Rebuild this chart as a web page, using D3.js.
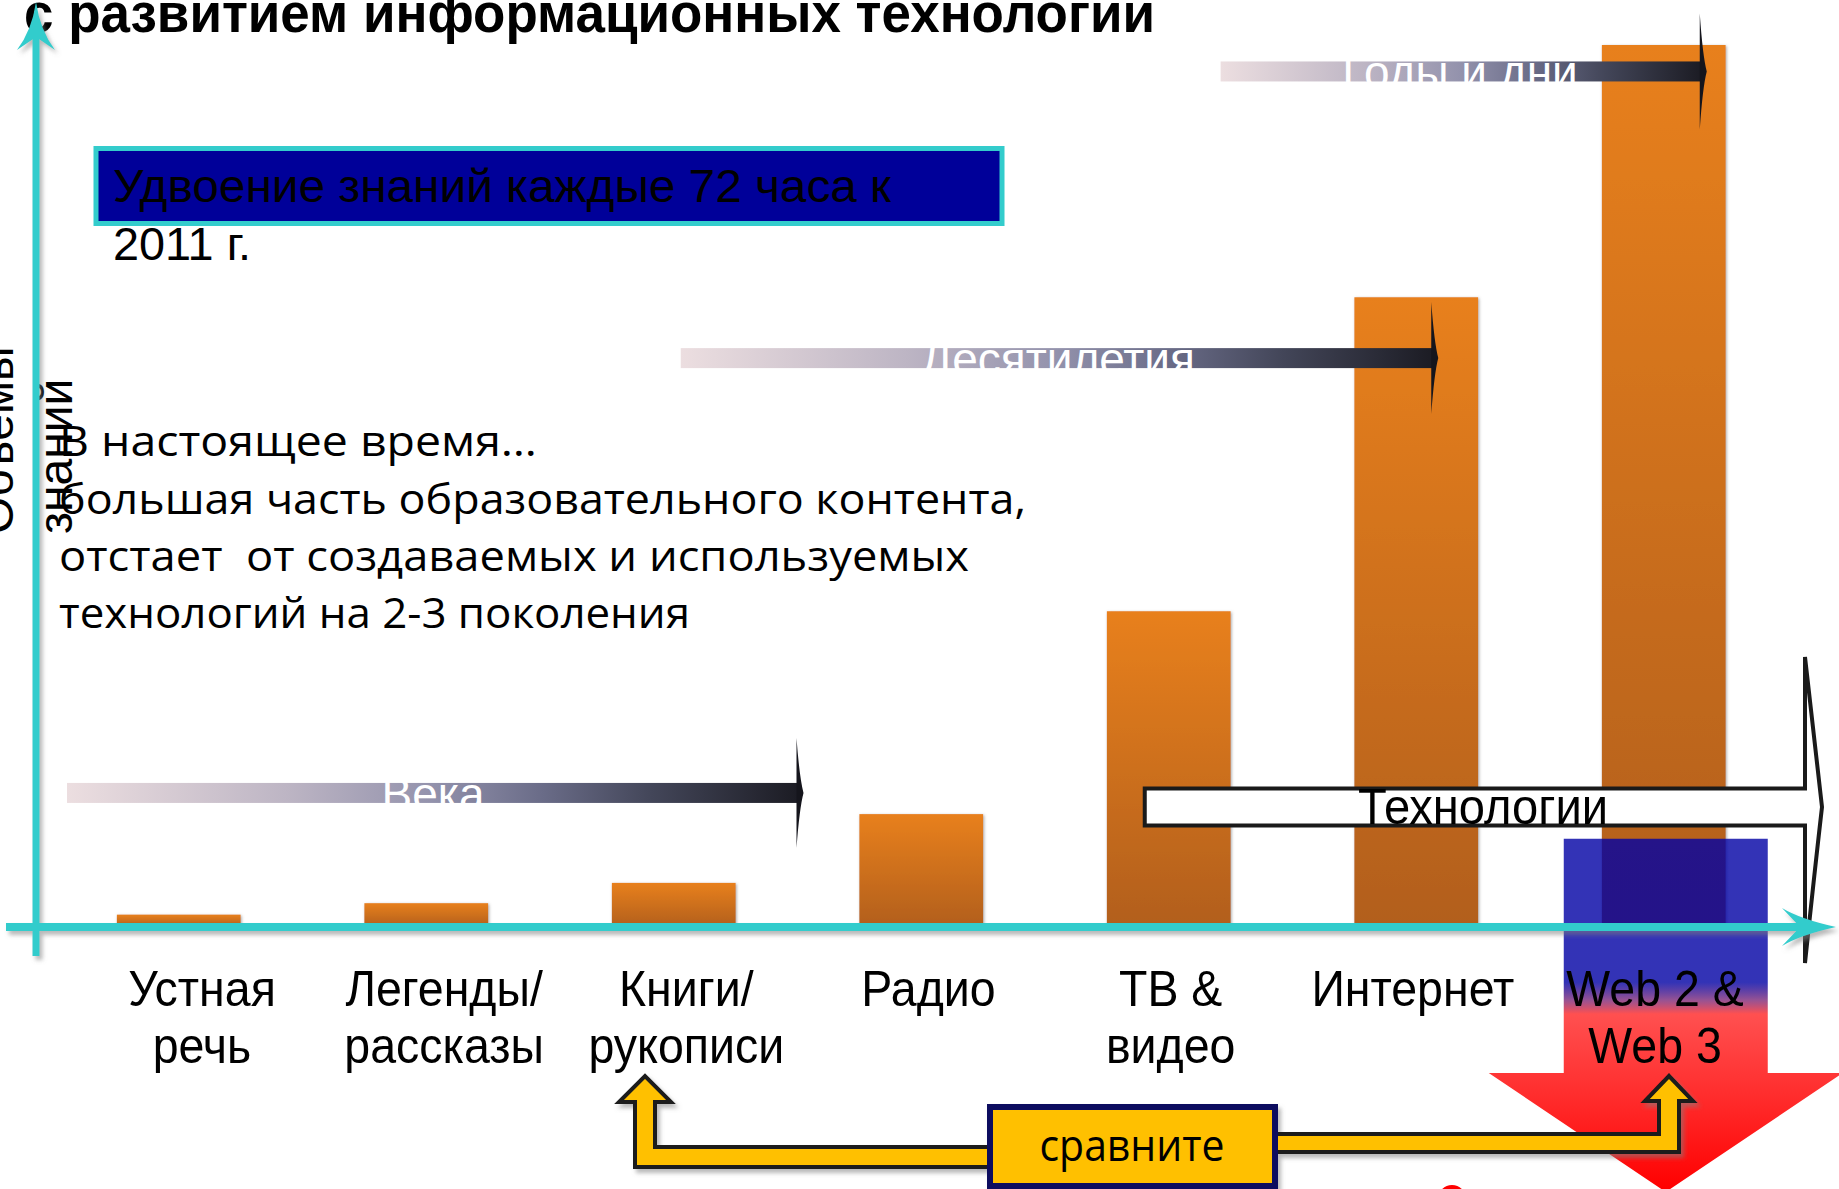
<!DOCTYPE html>
<html>
<head>
<meta charset="utf-8">
<script src="https://cdn.jsdelivr.net/npm/d3@7"></script>
<style>
  html, body { margin: 0; padding: 0; background: #ffffff; overflow: hidden; }
  text { white-space: pre; }
</style>
</head>
<body>
<svg id="chart" width="1839" height="1189"></svg>
<script>
// ---- data ----
const categories = ["Устная речь", "Легенды/ рассказы", "Книги/ рукописи", "Радио", "ТВ & видео", "Интернет", "Web 2 & Web 3"];
const categoryLines = [["Устная", "речь"], ["Легенды/", "рассказы"], ["Книги/", "рукописи"], ["Радио"], ["ТВ &", "видео"], ["Интернет"], ["Web 2 &", "Web 3"]];
const knowledgeVolume = [1.4, 2.7, 5.0, 12.8, 35.8, 71.4, 100];
const eraLabels = ["Века", "Десятилетия", "Годы и дни"];
const titleText = "с развитием информационных технологии";
const axisTitle = ["Объемы", "знаний"];
const headline = ["Удвоение знаний каждые 72 часа к", "2011 г."];
const noteLines = ["В настоящее время…", "большая часть образовательного контента,", "отстает  от создаваемых и используемых", "технологий на 2-3 поколения"];
const techLabel = "Технологии";
const compareLabel = "сравните";

// ---- setup ----
const svg = d3.select("#chart");
const defs = svg.append("defs");

const x = d3.scaleBand().domain(categories).range([55, 1787.5]).paddingInner(0.5).paddingOuter(0.25);
const y = d3.scaleLinear().domain([0, 100]).range([927, 45]);
const labelX = d3.scalePoint().domain(categories).range([202, 1655]);

const SANS = "'Liberation Sans', Arial, sans-serif";
const SOFT = "'Open Sans', 'Noto Sans', sans-serif";

function fitWidth(sel, w) {
  sel.attr("textLength", w).attr("lengthAdjust", "spacingAndGlyphs");
}
function condense(sel, k) {
  sel.each(function () {
    const w = this.getComputedTextLength();
    this.setAttribute("textLength", w * k);
    this.setAttribute("lengthAdjust", "spacingAndGlyphs");
  });
}

// gradients & filters
const barGrad = defs.append("linearGradient").attr("id", "barGrad").attr("x1", 0).attr("y1", 0).attr("x2", 0).attr("y2", 1);
barGrad.append("stop").attr("offset", 0).attr("stop-color", "#E8801F");
barGrad.append("stop").attr("offset", 1).attr("stop-color", "#B25F1E");

const eraGrad = defs.append("linearGradient").attr("id", "eraGrad").attr("x1", 0).attr("y1", 0).attr("x2", 1).attr("y2", 0);
[[0, "#ECDEE0"], [0.3, "#BDB5C4"], [0.5, "#9392AC"], [0.65, "#6A6C88"], [0.8, "#434659"], [1, "#1C1C24"]]
  .forEach(([o, c]) => eraGrad.append("stop").attr("offset", o).attr("stop-color", c));

const webGrad = defs.append("linearGradient").attr("id", "webGrad")
  .attr("gradientUnits", "userSpaceOnUse").attr("x1", 0).attr("y1", 838).attr("x2", 0).attr("y2", 1190);
[[0, "#0000A4", 0.8], [0.41, "#0000A4", 0.8], [0.46, "#8A3F88", 0.9], [0.5, "#FF5050", 1], [0.75, "#FF2A2A", 1], [1, "#FF0000", 1]]
  .forEach(([o, c, a]) => webGrad.append("stop").attr("offset", o).attr("stop-color", c).attr("stop-opacity", a));

const shadow = defs.append("filter").attr("id", "shadow").attr("x", "-10%").attr("y", "-10%").attr("width", "130%").attr("height", "130%");
shadow.append("feDropShadow").attr("dx", 3).attr("dy", 4).attr("stdDeviation", 2)
  .attr("flood-color", "#808080").attr("flood-opacity", 0.55);

const soft = defs.append("filter").attr("id", "soft").attr("x", "-10%").attr("y", "-10%").attr("width", "120%").attr("height", "120%");
soft.append("feDropShadow").attr("dx", 1).attr("dy", 1).attr("stdDeviation", 1.5)
  .attr("flood-color", "#707070").attr("flood-opacity", 0.6);

// ---- title ----
svg.append("text").attr("x", 24).attr("y", 32)
  .attr("font-family", SANS).attr("font-weight", "bold").attr("font-size", 56).attr("fill", "#000")
  .text(titleText).call(fitWidth, 1131);

// ---- headline box ----
svg.append("rect").attr("x", 96).attr("y", 148.5).attr("width", 906).attr("height", 75)
  .attr("fill", "#000099").attr("stroke", "#33CCCC").attr("stroke-width", 5);
svg.append("text").attr("x", 113).attr("y", 202)
  .attr("font-family", SANS).attr("font-size", 46).attr("fill", "#000")
  .text(headline[0]).call(fitWidth, 778);
svg.append("text").attr("x", 113).attr("y", 260)
  .attr("font-family", SANS).attr("font-size", 46).attr("fill", "#000")
  .text(headline[1]).call(fitWidth, 138);

// ---- bars ----
svg.append("g").attr("filter", "url(#soft)")
  .selectAll("rect").data(categories).join("rect")
  .attr("x", d => x(d))
  .attr("y", (d, i) => y(knowledgeVolume[i]))
  .attr("width", x.bandwidth())
  .attr("height", (d, i) => y(0) - y(knowledgeVolume[i]))
  .attr("fill", "url(#barGrad)");

// ---- era arrows (gradient shafts with thin spike heads) ----
const cx = c => x(c) + x.bandwidth() / 2;
const eraLayout = [
  { x0: 67, x1: (x(categories[2]) + x.bandwidth() + x(categories[3])) / 2, level: 15.2, labelX: 433, spike: 55 },
  { x0: cx(categories[2]) + 7, x1: cx(categories[5]) + 16, level: 64.5, labelX: 1058, spike: 56 },
  { x0: x(categories[4]) + x.bandwidth() - 10, x1: cx(categories[6]) + 37, level: 97, labelX: 1460, spike: 58 }
];
const eraG = svg.append("g");
eraLabels.forEach((lab, i) => {
  const L = eraLayout[i];
  const yc = y(L.level);
  eraG.append("rect").attr("x", L.x0).attr("y", yc - 10).attr("width", L.x1 - L.x0).attr("height", 20)
    .attr("fill", "url(#eraGrad)");
  eraG.append("path")
    .attr("d", `M${L.x1 - 1},${yc - L.spike} Q${L.x1 + 2},${yc - 15} ${L.x1 + 6},${yc} Q${L.x1 + 2},${yc + 15} ${L.x1 - 1},${yc + L.spike} Z`)
    .attr("fill", "#15151c");
  eraG.append("text").attr("x", L.labelX).attr("y", yc - 10 + 27)
    .attr("text-anchor", "middle").attr("font-family", SANS).attr("font-size", 46).attr("fill", "#fff")
    .text(lab);
});

// ---- note text ----
const noteWidths = [478, 967, 910, 631];
const noteBase = [456, 514, 571, 628];
svg.append("g").selectAll("text").data(noteLines).join("text")
  .attr("x", 59).attr("y", (d, i) => noteBase[i])
  .attr("font-family", SOFT).attr("font-size", 42).attr("fill", "#000")
  .text(d => d)
  .each(function (d, i) { d3.select(this).call(fitWidth, noteWidths[i]); });

// ---- axis title ----
svg.append("text").attr("transform", "translate(13,534) rotate(-90)")
  .attr("font-family", SANS).attr("font-size", 48).attr("fill", "#000").text(axisTitle[0]);
svg.append("text").attr("transform", "translate(72,534) rotate(-90)")
  .attr("font-family", SANS).attr("font-size", 48).attr("fill", "#000").text(axisTitle[1]);

// ---- "Технологии" arrow ----
const techY = y(13.6);
const tx0 = cx(categories[4]) - 24, tx1 = 1805;
svg.append("path")
  .attr("d", `M${tx0},${techY - 18.5} H${tx1} V657 Q${tx1 + 9},${techY - 70} ${tx1 + 17},${techY} Q${tx1 + 9},${techY + 70} ${tx1},963 V${techY + 18.5} H${tx0} Z`)
  .attr("fill", "#fff").attr("stroke", "#1a1a1a").attr("stroke-width", 4).attr("stroke-linejoin", "miter");
svg.append("text").attr("x", 1483).attr("y", techY + 17)
  .attr("text-anchor", "middle").attr("font-family", SANS).attr("font-size", 50).attr("fill", "#000")
  .text(techLabel).call(fitWidth, 250);

// ---- highlight arrow under the last category ----
const wc = cx(categories[6]) + 2;
const wTop = y(10);
svg.append("path")
  .attr("d", `M${wc - 102},${wTop} H${wc + 102} V1073 H${wc + 177} L${wc},1192 L${wc - 177},1073 H${wc - 102} Z`)
  .attr("fill", "url(#webGrad)");

// ---- axes ----
const axisG = svg.append("g").attr("filter", "url(#shadow)");
axisG.append("line").attr("x1", 6).attr("x2", 1800).attr("y1", y(0)).attr("y2", y(0))
  .attr("stroke", "#33CCCC").attr("stroke-width", 8);
axisG.append("path")
  .attr("d", `M1836,${y(0)} Q1800,${y(0) - 8} 1782,${y(0) - 19} L1800,${y(0)} L1782,${y(0) + 19} Q1800,${y(0) + 8} 1836,${y(0)} Z`)
  .attr("fill", "#33CCCC");
axisG.append("line").attr("x1", 36).attr("x2", 36).attr("y1", 956).attr("y2", 36)
  .attr("stroke", "#33CCCC").attr("stroke-width", 7);
axisG.append("path")
  .attr("d", "M36,2 Q40,30 55,50 L36,37 L17,50 Q32,30 36,2 Z")
  .attr("fill", "#33CCCC");

// ---- category labels ----
const labG = svg.append("g");
categories.forEach((c, i) => {
  categoryLines[i].forEach((ln, j) => {
    labG.append("text").attr("x", labelX(c)).attr("y", 1006 + j * 57)
      .attr("text-anchor", "middle").attr("font-family", SANS).attr("font-size", 50).attr("fill", "#000")
      .text(ln).call(condense, 0.93);
  });
});

// ---- comparison arrows ----
const cmpG = svg.append("g").attr("filter", "url(#shadow)");
cmpG.append("path")
  .attr("d", "M989,1147 H655 V1102 H671 L645,1076 L619,1102 H635 V1167 H989 Z")
  .attr("fill", "#FFC000").attr("stroke", "#1a1a1a").attr("stroke-width", 4).attr("stroke-linejoin", "miter");
cmpG.append("path")
  .attr("d", "M1276,1134 H1659 V1101 H1645 L1669,1076 L1693,1101 H1679 V1152 H1276 Z")
  .attr("fill", "#FFC000").attr("stroke", "#1a1a1a").attr("stroke-width", 4).attr("stroke-linejoin", "miter");
cmpG.append("rect").attr("x", 990).attr("y", 1107).attr("width", 285).attr("height", 79)
  .attr("fill", "#FFC000").attr("stroke", "#0a0a5e").attr("stroke-width", 6);
svg.append("text").attr("x", 1132).attr("y", 1161)
  .attr("text-anchor", "middle").attr("font-family", SOFT).attr("font-size", 44).attr("fill", "#000")
  .text(compareLabel).call(fitWidth, 185);

// small red mark at the bottom edge
svg.append("circle").attr("cx", 1452).attr("cy", 1199).attr("r", 14).attr("fill", "#FF0000");
</script>
</body>
</html>
